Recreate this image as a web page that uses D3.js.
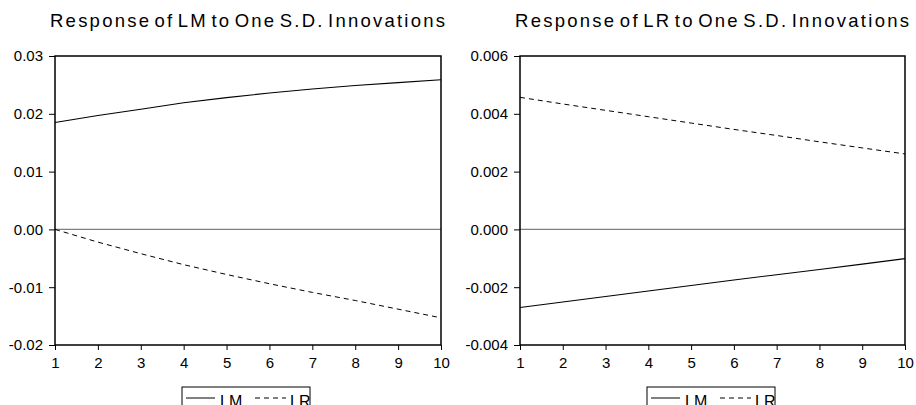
<!DOCTYPE html>
<html>
<head>
<meta charset="utf-8">
<script src="https://cdn.jsdelivr.net/npm/d3@7"></script>
<style>
  body { margin: 0; background: #fff; }
  text { font-family: "Liberation Sans", Arial, sans-serif; fill: #000; }
</style>
</head>
<body>
<div id="chart"></div>
<script>
let HEIGHT = 405,
    WIDTH = 916;

// periods on the x axis
const periods = [1, 2, 3, 4, 5, 6, 7, 8, 9, 10];

// Response of LM
const lmToLM = [0.0185, 0.0197, 0.0208, 0.0219, 0.0228, 0.0236, 0.0243, 0.0249, 0.0254, 0.0259];
const lmToLR = [0.0000, -0.0022, -0.0042, -0.0061, -0.0078, -0.0094, -0.0109, -0.0123, -0.0138, -0.0153];

// Response of LR
const lrToLM = [-0.00270, -0.00251, -0.00232, -0.00213, -0.00194, -0.00175, -0.00157, -0.00139, -0.00120, -0.00101];
const lrToLR = [0.00457, 0.00434, 0.00412, 0.00390, 0.00368, 0.00346, 0.00325, 0.00303, 0.00282, 0.00261];

const leftTicks = [-0.02, -0.01, 0.00, 0.01, 0.02, 0.03];
const rightTicks = [-0.004, -0.002, 0.000, 0.002, 0.004, 0.006];

const seriesNames = ["LM", "LR"];

let svg = d3.select("#chart")
    .append("svg")
    .attr("width", WIDTH)
    .attr("height", HEIGHT);

// draws one impulse response panel
function drawPanel(opts) {
    const x = d3.scaleLinear().domain([1, 10]).range([opts.left, opts.right]);
    const y = d3.scaleLinear().domain([opts.ticks[0], opts.ticks[opts.ticks.length - 1]]).range([345, 56]);
    const g = svg.append("g");

    // title, stretched like the eviews one (wide letters, narrow word gaps)
    g.append("text")
        .attr("x", opts.titleX)
        .attr("y", 27)
        .attr("textLength", opts.titleW)
        .attr("lengthAdjust", "spacing")
        .style("font-size", "18.5px")
        .style("word-spacing", "-4px")
        .text(opts.title);

    // zero line
    g.append("line")
        .attr("x1", opts.left).attr("x2", opts.right)
        .attr("y1", y(0)).attr("y2", y(0))
        .attr("stroke", "#808080")
        .attr("stroke-width", 1.2);

    const line = d3.line()
        .x((d, i) => x(periods[i]))
        .y(d => y(d));

    g.append("path")
        .datum(opts.solid)
        .attr("d", line)
        .attr("fill", "none")
        .attr("stroke", "#000")
        .attr("stroke-width", 1.1);

    g.append("path")
        .datum(opts.dashed)
        .attr("d", line)
        .attr("fill", "none")
        .attr("stroke", "#000")
        .attr("stroke-width", 1)
        .attr("stroke-dasharray", "5,4");

    // frame
    g.append("rect")
        .attr("x", opts.left).attr("y", 56)
        .attr("width", opts.right - opts.left)
        .attr("height", 345 - 56)
        .attr("fill", "none")
        .attr("stroke", "#000")
        .attr("stroke-width", 1.5);

    const yAxis = g.append("g")
        .attr("transform", `translate(${opts.left},0)`)
        .call(d3.axisLeft(y).tickValues(opts.ticks).tickFormat(d3.format(opts.fmt)).tickSize(6).tickPadding(6));
    const xAxis = g.append("g")
        .attr("transform", "translate(0,345)")
        .call(d3.axisBottom(x).tickValues(periods).tickFormat(d3.format("d")).tickSize(5).tickPadding(7));

    [yAxis, xAxis].forEach(a => {
        a.select(".domain").remove();
        a.selectAll("line").attr("stroke", "#000");
        a.selectAll("text")
            .style("font-size", "15px")
            .style("font-family", '"Liberation Sans", Arial, sans-serif');
    });
    yAxis.selectAll("text").text(d => d3.format(opts.fmt)(d).replace("−", "-"));

    // legend (cut by the bottom of the picture)
    const lg = g.append("g").attr("transform", `translate(${opts.legendX},387)`);
    lg.append("rect")
        .attr("width", 128).attr("height", 30)
        .attr("fill", "#fff")
        .attr("stroke", "#000")
        .attr("stroke-width", 1);
    lg.append("line")
        .attr("x1", 4).attr("x2", 33).attr("y1", 11).attr("y2", 11)
        .attr("stroke", "#000");
    lg.append("text").attr("x", 38).attr("y", 20).style("font-size", "16px").text(seriesNames[0]);
    lg.append("line")
        .attr("x1", 73).attr("x2", 104).attr("y1", 11).attr("y2", 11)
        .attr("stroke", "#000")
        .attr("stroke-dasharray", "5,4");
    lg.append("text").attr("x", 108).attr("y", 20).style("font-size", "16px").text(seriesNames[1]);
}

drawPanel({
    left: 55, right: 441, ticks: leftTicks, fmt: ".2f",
    solid: lmToLM, dashed: lmToLR,
    title: "Response of LM to One S.D. Innovations", titleX: 50, titleW: 395,
    legendX: 182
});

drawPanel({
    left: 520, right: 905, ticks: rightTicks, fmt: ".3f",
    solid: lrToLM, dashed: lrToLR,
    title: "Response of LR to One S.D. Innovations", titleX: 515, titleW: 394,
    legendX: 647
});
</script>
</body>
</html>
